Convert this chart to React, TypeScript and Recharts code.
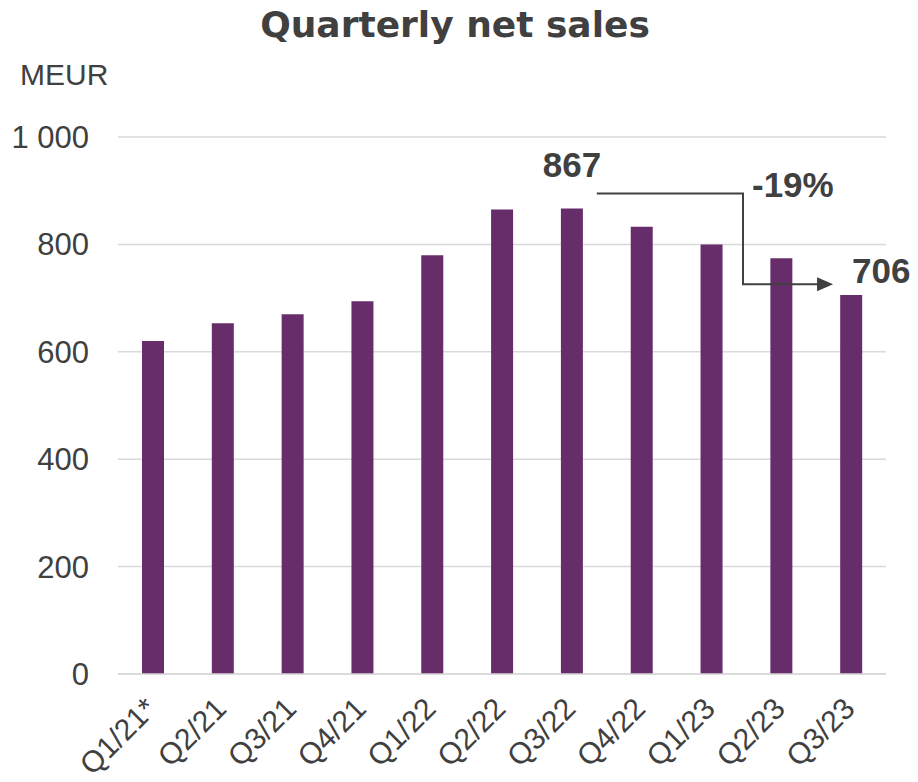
import React from 'react';
import { BarChart, Bar, XAxis, YAxis, CartesianGrid, LabelList, ReferenceLine } from 'recharts';

// --- Data ---
const quarters = ['Q1/21*', 'Q2/21', 'Q3/21', 'Q4/21', 'Q1/22', 'Q2/22', 'Q3/22', 'Q4/22', 'Q1/23', 'Q2/23', 'Q3/23'];
const netSales = [620, 653, 670, 694, 780, 865, 867, 833, 800, 774, 706];
const yTicks = [0, 200, 400, 600, 800, 1000];

// annotation: peak vs latest
const peakIndex = 6;
const lastIndex = quarters.length - 1;
const arrowLevels = [895, 726]; // MEUR level of the arrow's two horizontal runs

const TEXT = '#404040';
const BAR = '#672D6B';
const FONT = '"Liberation Sans", Arial, sans-serif';

const chartData = quarters.map((q, i) => ({
  quarter: q,
  sales: netSales[i],
  peakLabel: i === peakIndex ? netSales[i] : null,
  lastLabel: i === lastIndex ? netSales[i] : null,
}));

const changePct = Math.round((netSales[lastIndex] - netSales[peakIndex]) / netSales[peakIndex] * 100);

const fmt = (v: number) => String(v).replace(/\B(?=(\d{3})+(?!\d))/g, ' ');

const QuarterTick = ({ x, y, payload }: any) => (
  <g transform={`translate(${x - 2},${y + 29})`}>
    <text transform="rotate(-45)" textAnchor="end" dominantBaseline="central"
      fill={TEXT} fontSize={30} fontFamily={FONT}>
      {payload.value}
    </text>
  </g>
);

const PeakLabel = ({ x, y, width, value }: any) => {
  if (value == null) return null;
  return (
    <text x={x + width / 2} y={y - 31} textAnchor="middle" fill={TEXT}
      fontSize={35} fontWeight="bold" fontFamily={FONT}>{value}</text>
  );
};

const LastLabel = ({ x, y, width, value }: any) => {
  if (value == null) return null;
  return (
    <text x={x + width / 2 + 30} y={y - 12} textAnchor="middle" fill={TEXT}
      fontSize={35} fontWeight="bold" fontFamily={FONT}>{value}</text>
  );
};

// Elbow arrow from the peak bar to the latest bar
const ElbowArrow = ({ x1, y1, x2, y2 }: any) => {
  const start = x1 + 25;
  const xm = x1 + (x2 - x1) * 0.613;
  const tip = x2 - 18;
  return (
    <g>
      <path d={`M${start},${y1} H${xm} V${y2} H${tip - 14}`} fill="none" stroke={TEXT} strokeWidth={2} />
      <path d={`M${tip},${y2} L${tip - 16},${y2 - 7} L${tip - 16},${y2 + 7} Z`} fill={TEXT} />
      <text x={xm + 9} y={y1 + 4} fill={TEXT} fontSize={35} fontWeight="bold" fontFamily={FONT}>
        {`${changePct}%`}
      </text>
    </g>
  );
};

export default function App() {
  return (
    <div style={{ position: 'absolute', left: 0, top: 0, width: 918, height: 782, background: '#fff' }}>
      <div style={{
        position: 'absolute', left: 0, width: 910, top: 1, textAlign: 'center',
        fontFamily: '"DejaVu Sans", sans-serif', fontWeight: 700, fontSize: 36, color: TEXT, lineHeight: '48px',
      }}>
        Quarterly net sales
      </div>
      <div style={{
        position: 'absolute', left: 20, top: 57, fontFamily: FONT, fontSize: 30, color: TEXT, lineHeight: '36px',
      }}>
        MEUR
      </div>
      <BarChart width={918} height={782} data={chartData}
        margin={{ top: 137, right: 32, left: 0, bottom: 0 }}>
        <CartesianGrid vertical={false} stroke="#d9d9d9" strokeWidth={1.5} />
        <XAxis dataKey="quarter" axisLine={{ stroke: '#d9d9d9', strokeWidth: 1.5 }} tickLine={false}
          tickSize={0} tickMargin={0} height={108} interval={0} tick={<QuarterTick />} />
        <YAxis domain={[0, 1000]} ticks={yTicks} width={118} axisLine={false} tickLine={false}
          tickSize={0} tickMargin={29} tickFormatter={fmt}
          tick={{ fill: TEXT, fontSize: 31, fontFamily: FONT }} />
        <Bar dataKey="sales" fill={BAR} barSize={22} isAnimationActive={false}>
          <LabelList dataKey="peakLabel" content={<PeakLabel />} />
          <LabelList dataKey="lastLabel" content={<LastLabel />} />
        </Bar>
        <ReferenceLine
          segment={[
            { x: quarters[peakIndex], y: arrowLevels[0] },
            { x: quarters[lastIndex], y: arrowLevels[1] },
          ]}
          ifOverflow="visible"
          shape={<ElbowArrow />}
        />
      </BarChart>
    </div>
  );
}
